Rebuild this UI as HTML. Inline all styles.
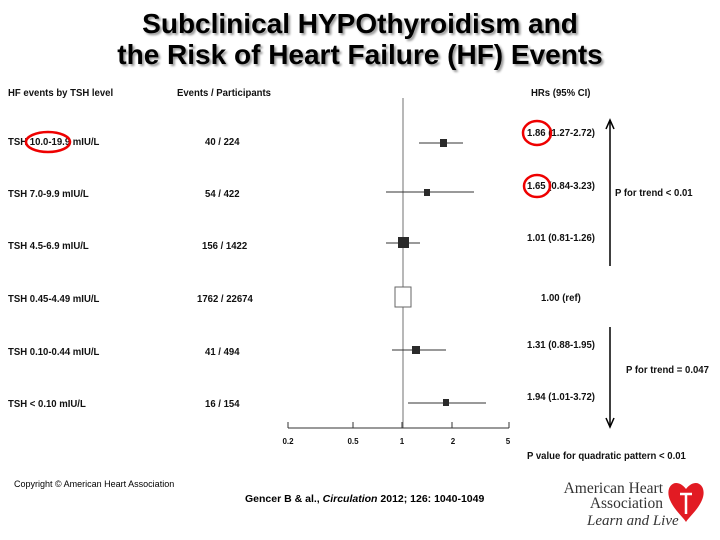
<!DOCTYPE html>
<html><head><style>
body{margin:0;width:720px;height:540px;background:#fff;position:relative;font-family:"Liberation Sans",Arial,sans-serif;overflow:hidden}
.t{position:absolute;font-weight:bold;font-size:10.5px;color:#111;white-space:nowrap;transform:scaleX(0.91);transform-origin:left center}
.h{position:absolute;left:0;width:720px;text-align:center;font-weight:bold;font-size:28px;color:#000;text-shadow:2px 2px 2px #999;line-height:31px}
</style></head><body>
<div class="h" style="top:8px">Subclinical HYPOthyroidism and</div>
<div class="h" style="top:39px">the Risk of Heart Failure (HF) Events</div>

<div class="t" style="left:8px;top:87px">HF events by TSH level</div>
<div class="t" style="left:177px;top:87px">Events / Participants</div>
<div class="t" style="left:531px;top:87px">HRs (95% CI)</div>

<div class="t" style="left:8px;top:136px">TSH 10.0-19.9 mIU/L</div>
<div class="t" style="left:8px;top:188px">TSH 7.0-9.9 mIU/L</div>
<div class="t" style="left:8px;top:240px">TSH 4.5-6.9 mIU/L</div>
<div class="t" style="left:8px;top:293px">TSH 0.45-4.49 mIU/L</div>
<div class="t" style="left:8px;top:346px">TSH 0.10-0.44 mIU/L</div>
<div class="t" style="left:8px;top:398px">TSH &lt; 0.10 mIU/L</div>

<div class="t" style="left:205px;top:136px">40 / 224</div>
<div class="t" style="left:205px;top:188px">54 / 422</div>
<div class="t" style="left:202px;top:240px">156 / 1422</div>
<div class="t" style="left:197px;top:293px">1762 / 22674</div>
<div class="t" style="left:205px;top:346px">41 / 494</div>
<div class="t" style="left:205px;top:398px">16 / 154</div>

<div class="t" style="left:527px;top:127px">1.86 (1.27-2.72)</div>
<div class="t" style="left:527px;top:180px">1.65 (0.84-3.23)</div>
<div class="t" style="left:527px;top:232px">1.01 (0.81-1.26)</div>
<div class="t" style="left:541px;top:292px">1.00 (ref)</div>
<div class="t" style="left:527px;top:339px">1.31 (0.88-1.95)</div>
<div class="t" style="left:527px;top:391px">1.94 (1.01-3.72)</div>
<div class="t" style="left:615px;top:187px">P for trend &lt; 0.01</div>
<div class="t" style="left:626px;top:364px">P for trend = 0.047</div>
<div class="t" style="left:527px;top:450px">P value for quadratic pattern &lt; 0.01</div>

<div style="position:absolute;left:14px;top:479px;font-size:9px">Copyright © American Heart Association</div>
<div style="position:absolute;left:245px;top:493px;font-size:10.5px;font-weight:bold">Gencer B &amp; al., <i>Circulation</i> 2012; 126: 1040-1049</div>

<div style="position:absolute;left:553px;top:481px;width:110px;text-align:right;font-family:'Liberation Serif',serif;font-size:15.5px;line-height:15px;color:#333">American Heart<br>Association</div>
<div style="position:absolute;left:587px;top:513px;font-family:'Liberation Serif',serif;font-style:italic;font-size:15px;color:#333">Learn and Live</div>
<svg style="position:absolute;left:0;top:0" width="720" height="540">
<path d="M686 489 C676 476 664 486 670 500 C674 510 684 518 686 522 C688 518 698 510 702 500 C708 486 696 476 686 489Z" fill="#e21b23"/>
<path d="M680 494 h12 M686 494 v20" stroke="#fff" stroke-width="2.5"/>
<g fill="none" stroke="#e00" stroke-width="2.5">
<ellipse cx="48" cy="142" rx="22" ry="10"/>
<ellipse cx="537" cy="133" rx="14" ry="12"/>
<ellipse cx="537" cy="186" rx="13" ry="11"/>
</g>
<line x1="403" y1="98" x2="403" y2="428" stroke="#888" stroke-width="1.2"/>
<line x1="288" y1="428" x2="509" y2="428" stroke="#333" stroke-width="1"/>
<g stroke="#333"><line x1="288" y1="422" x2="288" y2="428"/><line x1="353" y1="422" x2="353" y2="428"/><line x1="402" y1="422" x2="402" y2="428"/><line x1="452" y1="422" x2="452" y2="428"/><line x1="509" y1="422" x2="509" y2="428"/></g>
<g font-size="8" font-weight="bold" text-anchor="middle" fill="#111" font-family="Liberation Sans">
<text x="288" y="444">0.2</text><text x="353" y="444">0.5</text><text x="402" y="444">1</text><text x="453" y="444">2</text><text x="508" y="444">5</text></g>
<g stroke="#333" stroke-width="1">
<line x1="419" y1="143" x2="463" y2="143"/><line x1="386" y1="192" x2="474" y2="192"/>
<line x1="386" y1="243" x2="420" y2="243"/><line x1="392" y1="350" x2="446" y2="350"/>
<line x1="408" y1="403" x2="486" y2="403"/></g>
<g fill="#2a2a2a">
<rect x="440" y="139" width="7" height="8"/><rect x="424" y="189" width="6" height="7"/>
<rect x="398" y="237" width="11" height="11"/><rect x="412" y="346" width="8" height="8"/>
<rect x="443" y="399" width="6" height="7"/></g>
<rect x="395" y="287" width="16" height="20" fill="#fff" stroke="#666"/>
<g stroke="#000" stroke-width="1.5" fill="none">
<line x1="610" y1="122" x2="610" y2="266"/><path d="M606 129 L610 120 L614 129"/>
<line x1="610" y1="327" x2="610" y2="425"/><path d="M606 418 L610 427 L614 418"/></g>
</svg>
</body></html>
